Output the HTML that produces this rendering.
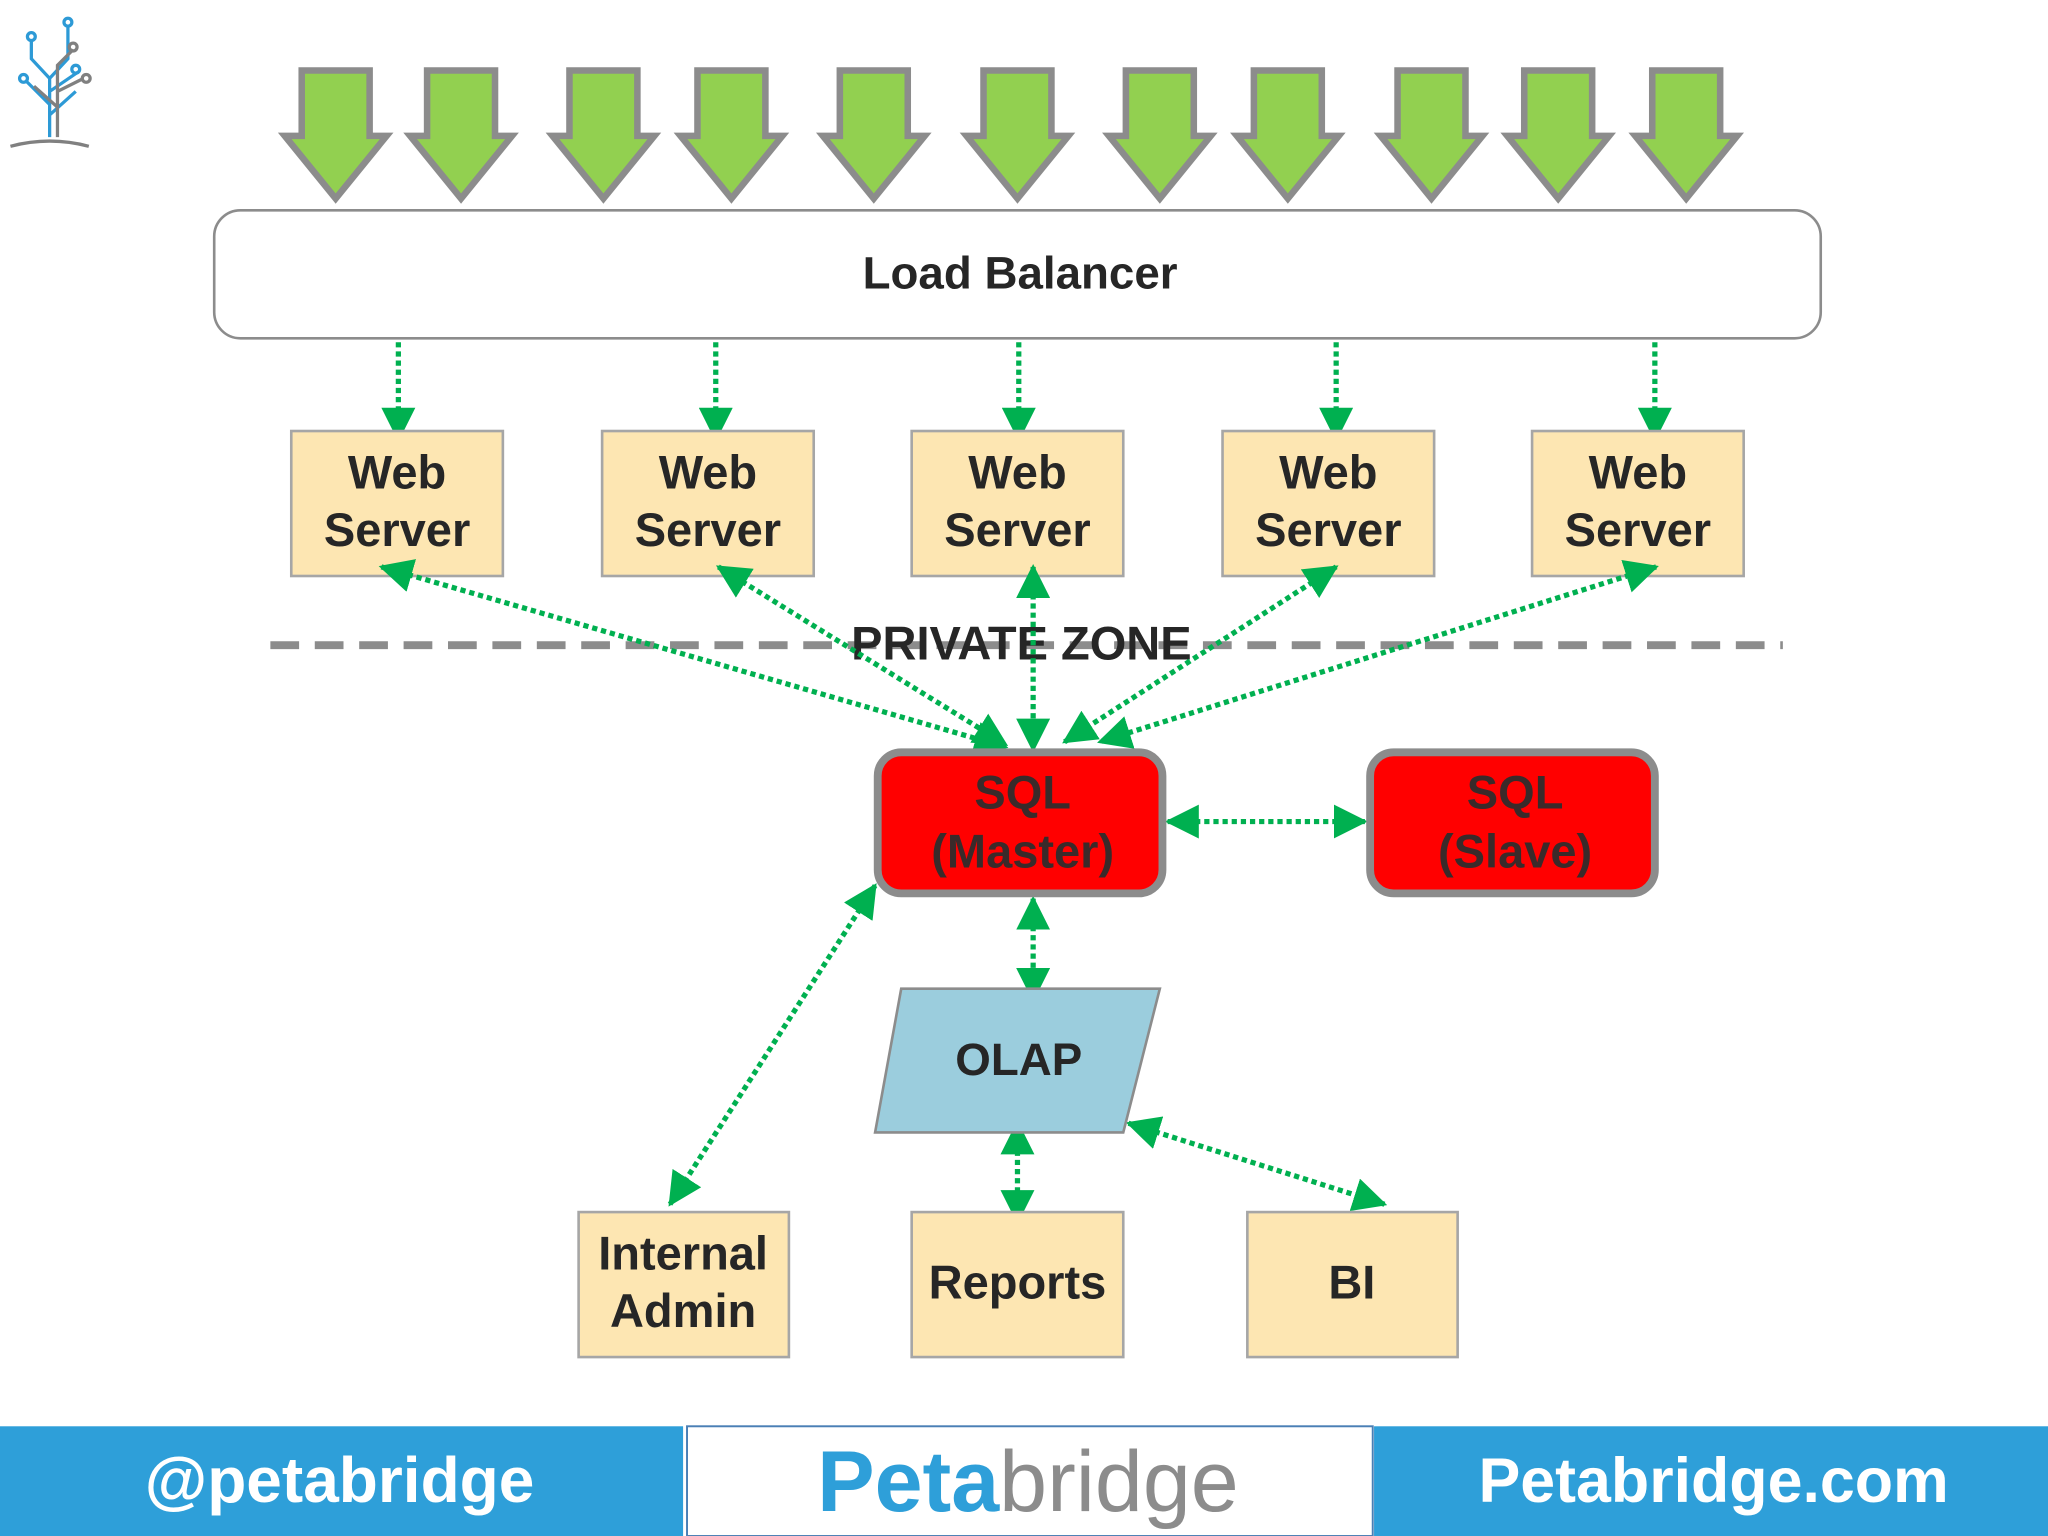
<!DOCTYPE html>
<html><head><meta charset="utf-8"><style>
html,body{margin:0;padding:0;background:#fff;}
svg{display:block;}
text{font-family:"Liberation Sans",Arial,sans-serif;font-weight:bold;}
</style></head><body>
<svg width="2048" height="1536" viewBox="0 0 1568 1176" xmlns="http://www.w3.org/2000/svg">
<defs>
<marker id="a" viewBox="0 0 24 24" refX="22" refY="12" markerWidth="26" markerHeight="26" markerUnits="userSpaceOnUse" orient="auto-start-reverse">
<path d="M0,0 L24,12 L0,24 Z" fill="#00b050"/>
</marker>
<path id="ga" d="M-26,0 H26 V50 H39 L0,98 L-39,50 H-26 Z" fill="#92d050" stroke="#8c8c8c" stroke-width="5"/>
</defs>
<rect width="1568" height="1176" fill="#fff"/>
<!-- logo -->
<g fill="none" stroke-width="2.5">
<path d="M38,105 V60 L24,45 V30 M38,60 L52,45 V20 M38,80 L20,62 M38,70 L60,55 M38,88 L58,70" stroke="#2d9ad6"/>
<path d="M44,105 V50 L56,38 M44,70 L64,60 M44,82 L26,66" stroke="#808080"/>
<circle cx="24" cy="28" r="3" stroke="#2d9ad6"/><circle cx="52" cy="17" r="3" stroke="#2d9ad6"/><circle cx="18" cy="60" r="3" stroke="#2d9ad6"/><circle cx="58" cy="53" r="3" stroke="#2d9ad6"/><circle cx="56" cy="36" r="3" stroke="#808080"/><circle cx="66" cy="60" r="3" stroke="#808080"/>
<path d="M8,112 Q38,104 68,112" stroke="#808080"/>
</g>
<!-- top arrows -->
<g>
<use href="#ga" x="257" y="54"/><use href="#ga" x="353" y="54"/><use href="#ga" x="462" y="54"/><use href="#ga" x="560" y="54"/><use href="#ga" x="669" y="54"/><use href="#ga" x="779" y="54"/><use href="#ga" x="888" y="54"/><use href="#ga" x="986" y="54"/><use href="#ga" x="1096" y="54"/><use href="#ga" x="1193" y="54"/><use href="#ga" x="1291" y="54"/>
</g>
<rect x="164" y="161" width="1230" height="98" rx="20" fill="#fff" stroke="#8c8c8c" stroke-width="2"/>
<text x="781" y="221" font-size="35" text-anchor="middle" fill="#262626">Load Balancer</text>
<!-- LB to web servers -->
<g stroke="#00b050" stroke-width="4" stroke-dasharray="4 3" marker-end="url(#a)">
<line x1="305" y1="262" x2="305" y2="336"/><line x1="548" y1="262" x2="548" y2="336"/><line x1="780" y1="262" x2="780" y2="336"/><line x1="1023" y1="262" x2="1023" y2="336"/><line x1="1267" y1="262" x2="1267" y2="336"/>
</g>
<!-- web servers -->
<g fill="#fde6b2" stroke="#a6a6a6" stroke-width="2">
<rect x="223" y="330" width="162" height="111"/><rect x="461" y="330" width="162" height="111"/><rect x="698" y="330" width="162" height="111"/><rect x="936" y="330" width="162" height="111"/><rect x="1173" y="330" width="162" height="111"/>
</g>
<g font-size="36" text-anchor="middle" fill="#262626">
<text x="304" y="374">Web</text><text x="304" y="418">Server</text>
<text x="542" y="374">Web</text><text x="542" y="418">Server</text>
<text x="779" y="374">Web</text><text x="779" y="418">Server</text>
<text x="1017" y="374">Web</text><text x="1017" y="418">Server</text>
<text x="1254" y="374">Web</text><text x="1254" y="418">Server</text>
</g>
<!-- private zone -->
<line x1="207" y1="494" x2="1365" y2="494" stroke="#8c8c8c" stroke-width="6" stroke-dasharray="22 12"/>
<text x="782" y="505" font-size="36" text-anchor="middle" fill="#262626">PRIVATE ZONE</text>
<!-- connectors -->
<g stroke="#00b050" stroke-width="4" stroke-dasharray="4 3" marker-end="url(#a)" marker-start="url(#a)" fill="none">
<line x1="292" y1="434" x2="770" y2="572"/>
<line x1="550" y1="434" x2="770" y2="570"/>
<line x1="791" y1="434" x2="791" y2="574"/>
<line x1="1023" y1="434" x2="815" y2="568"/>
<line x1="1268" y1="434" x2="842" y2="568"/>
<line x1="894" y1="629" x2="1045" y2="629"/>
<line x1="791" y1="688" x2="791" y2="765"/>
<line x1="779" y1="860" x2="779" y2="935"/>
<line x1="864" y1="860" x2="1060" y2="922"/>
<line x1="670" y1="678" x2="513" y2="922"/>
</g>
<!-- SQL -->
<rect x="672" y="576" width="218" height="108" rx="18" fill="#ff0000" stroke="#8c8c8c" stroke-width="6"/>
<rect x="1049" y="576" width="218" height="108" rx="18" fill="#ff0000" stroke="#8c8c8c" stroke-width="6"/>
<g font-size="36" text-anchor="middle" fill="#3a2a2a">
<text x="783" y="619">SQL</text><text x="783" y="664">(Master)</text>
<text x="1160" y="619">SQL</text><text x="1160" y="664">(Slave)</text>
</g>
<!-- OLAP -->
<polygon points="690,757 888,757 860,867 670,867" fill="#9bcddd" stroke="#8c8c8c" stroke-width="2"/>
<text x="780" y="823" font-size="35" text-anchor="middle" fill="#262626">OLAP</text>
<!-- bottom boxes -->
<g fill="#fde6b2" stroke="#a6a6a6" stroke-width="2">
<rect x="443" y="928" width="161" height="111"/><rect x="698" y="928" width="162" height="111"/><rect x="955" y="928" width="161" height="111"/>
</g>
<g font-size="36" text-anchor="middle" fill="#262626">
<text x="523" y="972">Internal</text><text x="523" y="1016">Admin</text>
<text x="779" y="994">Reports</text>
<text x="1035" y="994">BI</text>
</g>
<!-- footer -->
<rect x="0" y="1092" width="523" height="84" fill="#2e9fd9"/>
<rect x="1052" y="1092" width="516" height="84" fill="#2e9fd9"/>
<rect x="526" y="1092" width="525" height="84" fill="#fff" stroke="#4a7fb5" stroke-width="1.5"/>
<text x="260" y="1150" font-size="49" text-anchor="middle" fill="#fff">@petabridge</text>
<text x="787" y="1157" font-size="66" text-anchor="middle"><tspan fill="#2e9fd9" font-weight="bold">Peta</tspan><tspan fill="#8c8c8c" font-weight="normal">bridge</tspan></text>
<text x="1312" y="1150" font-size="48" text-anchor="middle" fill="#fff">Petabridge.com</text>
</svg>
</body></html>
